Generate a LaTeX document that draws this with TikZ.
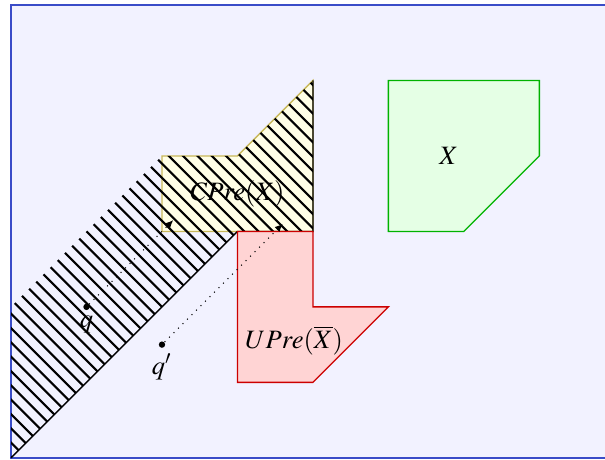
\documentclass[tikz,border=0pt]{standalone}
\usepackage{amsmath,amssymb}
\usepackage{mathptmx}
\usepackage{tikz}
\usetikzlibrary{arrows.meta}
\definecolor{frame}{HTML}{3A4CC8}
\definecolor{cpreline}{HTML}{C8B85A}

\begin{document}
\begin{tikzpicture}[
  zone/.style={line width=0.5pt},
  hatchline/.style={line width=0.8pt},
  dot/.style={circle,fill=black,inner sep=0pt,minimum size=2.4pt},
  arr/.style={-{Latex[length=3pt,width=2.6pt]},dotted,thin}
]
  \useasboundingbox (-0.146,-0.026) rectangle (7.87,6.066);
  \draw[fill=blue!5,draw=frame,line width=0.5pt] (0,0) rectangle (8.3,6);

  % regions
  \draw[zone,fill=yellow!10,draw=cpreline] (2,3) -- (2,4) -- (3,4) -- (4,5) -- (4,3) -- cycle;
  \begin{scope}
    \clip (0,0) -- (0,2) -- (2,4) -- (3,4) -- (4,5) -- (4,3) -- (3,3) -- cycle;
    \foreach \c in {0.01,0.2,...,9.2}
      \draw[hatchline] (\c,0) -- ++(-6,6);
  \end{scope}
  \draw[line width=0.5pt] (0,0) -- (3,3) -- (4,3) -- (4,5);
  \draw[zone,fill=red!17,draw=red!80!black] (3,3) -- (4,3) -- (4,2) -- (5,2) -- (4,1) -- (3,1) -- cycle;
  \draw[zone,fill=green!10,draw=green!70!black] (5,5) -- (7,5) -- (7,4) -- (6,3) -- (5,3) -- cycle;

  % labels
  \node (cpre) at (3,3.5)    {$CPre(X)$};
  \node (upre) at (3.75,1.55) {$UPre(\overline{X})$};
  \node (x)    at (5.8,4)    {$X$};

  % states
  \node[dot,label={[inner sep=2pt]below:$q$}]  (q)  at (1,2)   {};
  \node[dot,label={[inner sep=2pt]below:$q'$}] (qp) at (2,1.5) {};
  \coordinate (qend)  at (2.15,3.15);
  \coordinate (qpend) at (3.6,3.1);

  \draw[arr] (q)  -- (qend);
  \draw[arr] (qp) -- (qpend);
\end{tikzpicture}
\end{document}
